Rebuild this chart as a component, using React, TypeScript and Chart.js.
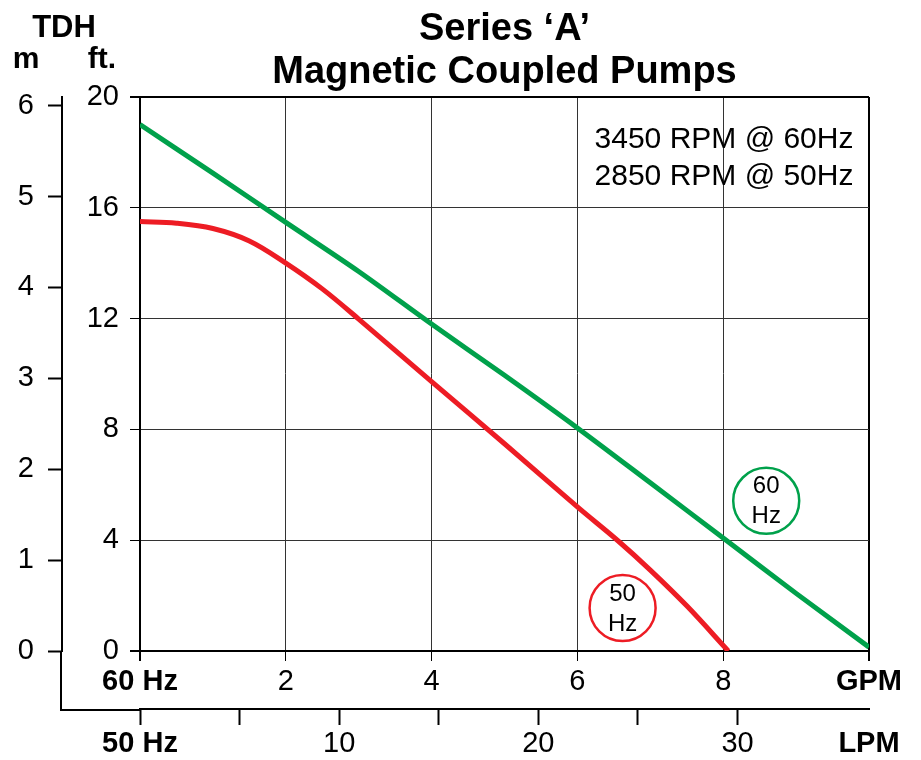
import React, { useEffect, useRef } from 'react';
import { Chart, registerables } from 'chart.js';

Chart.register(...registerables);

// ---------- data ----------
const GPM_TICKS = [0, 2, 4, 6, 8, 10];
const GPM_LABELS = ['60 Hz', '2', '4', '6', '8', 'GPM'];
const LPM_TICKS = [0, 5, 10, 15, 20, 25, 30];
const LPM_LABELS = ['50 Hz', '', '10', '', '20', '', '30'];
const LPM_MAX = 36.6;
const LPM_END_LABEL = 'LPM';
const FT_TICKS = [0, 4, 8, 12, 16, 20];
const M_TICKS = [0, 1, 2, 3, 4, 5, 6];
const FT_PER_M = 3.2808;
const FT_MAX = 20;

const GPM_60 = [0, 1, 2, 3, 4, 5, 6, 7, 8, 9, 10];
const FT_60 = [19.0, 17.25, 15.47, 13.7, 11.8, 9.95, 8.05, 6.07, 4.08, 2.08, 0.14];
const GPM_50 = [0, 0.5, 1, 1.5, 2, 2.5, 3, 4, 5, 6, 6.56, 7, 7.5, 8.07];
const FT_50 = [15.5, 15.44, 15.25, 14.8, 14.0, 13.07, 11.98, 9.72, 7.48, 5.2, 3.97, 2.92, 1.63, 0];

const TITLE_LINES = ['Series \u2018A\u2019', 'Magnetic Coupled Pumps'];
const SPEED_LINES = ['3450 RPM @ 60Hz', '2850 RPM @ 50Hz'];
const HEAD_LABELS = ['TDH', 'm', 'ft.'];
const CURVE_TAGS = [['60', 'Hz'], ['50', 'Hz']];

const GREEN = '#00a14b';
const RED = '#ed1c24';
const FONT = "'Liberation Sans', Arial, Helvetica, sans-serif";
const NUM_SIZE = 29;

const decorPlugin = {
  id: 'decor',
  afterDraw(chart: any) {
    const { ctx, chartArea, scales } = chart;
    const xs = scales.x;
    const ys = scales.y;
    const ym = scales.ym;
    const x2 = scales.x2;
    ctx.save();
    // axis line extensions
    ctx.strokeStyle = '#000';
    ctx.lineWidth = 2;
    ctx.beginPath();
    ctx.moveTo(ym.right - 1, chartArea.bottom);
    ctx.lineTo(ym.right - 1, x2.top + 1);
    ctx.stroke();
    ctx.beginPath();
    ctx.moveTo(ym.right - 2, x2.top + 1);
    ctx.lineTo(chartArea.left, x2.top + 1);
    ctx.stroke();

    // head labels
    ctx.fillStyle = '#000';
    ctx.textAlign = 'center';
    ctx.textBaseline = 'alphabetic';
    ctx.font = `bold 31px ${FONT}`;
    ctx.fillText(HEAD_LABELS[0], 64, 37);
    ctx.font = `bold 30px ${FONT}`;
    ctx.fillText(HEAD_LABELS[1], 26, 68);
    ctx.fillText(HEAD_LABELS[2], 102, 68);

    // speed text
    ctx.font = `30px ${FONT}`;
    ctx.textAlign = 'center';
    const sx = chartArea.right - 145;
    ctx.fillText(SPEED_LINES[0], sx, chartArea.top + 51);
    ctx.fillText(SPEED_LINES[1], sx, chartArea.top + 88);

    // circled tags
    const tags = [
      { lines: CURVE_TAGS[0], gx: 8.59, fy: 5.42, color: GREEN },
      { lines: CURVE_TAGS[1], gx: 6.62, fy: 1.55, color: RED },
    ];
    tags.forEach((t) => {
      const cx = xs.getPixelForValue(t.gx);
      const cy = ys.getPixelForValue(t.fy);
      ctx.beginPath();
      ctx.arc(cx, cy, 33, 0, Math.PI * 2);
      ctx.strokeStyle = t.color;
      ctx.lineWidth = 2.5;
      ctx.stroke();
      ctx.fillStyle = '#000';
      ctx.font = `24px ${FONT}`;
      ctx.textAlign = 'center';
      ctx.textBaseline = 'middle';
      ctx.fillText(t.lines[0], cx, cy - 14);
      ctx.fillText(t.lines[1], cx, cy + 16);
    });
    ctx.restore();
  },
};

export default function App() {
  const ref = useRef<HTMLCanvasElement | null>(null);

  useEffect(() => {
    if (!ref.current) return;
    Chart.defaults.font.family = FONT;
    Chart.defaults.color = '#000';
    const edgeX = (v: number) => v === 0 || v === 10;
    const edgeY = (v: number) => v === 0 || v === 20;

    const chart = new Chart(ref.current, {
      type: 'line',
      data: {
        datasets: [
          {
            label: '60 Hz',
            data: GPM_60.map((g, i) => ({ x: g, y: FT_60[i] })),
            borderColor: GREEN,
            borderWidth: 5,
            pointRadius: 0,
            tension: 0.3,
            fill: false,
          },
          {
            label: '50 Hz',
            data: GPM_50.map((g, i) => ({ x: g, y: FT_50[i] })),
            borderColor: RED,
            borderWidth: 5,
            pointRadius: 0,
            tension: 0.35,
            fill: false,
          },
        ],
      },
      options: {
        responsive: false,
        animation: false,
        devicePixelRatio: 1,
        layout: { padding: { top: 0, left: 0, right: 52, bottom: 0 } },
        plugins: {
          legend: { display: false },
          tooltip: { enabled: false },
          title: {
            display: true,
            text: TITLE_LINES,
            fullSize: false,
            color: '#000',
            font: { size: 38, weight: 'bold', lineHeight: 1.13, family: FONT },
            padding: { top: 8, bottom: 3 },
          },
        },
        scales: {
          x: {
            type: 'linear',
            position: 'bottom',
            weight: 0,
            min: 0,
            max: 10,
            afterBuildTicks: (s: any) => {
              s.ticks = GPM_TICKS.map((v) => ({ value: v }));
            },
            afterFit: (s: any) => {
              s.height = 58;
            },
            ticks: {
              autoSkip: false,
              maxRotation: 0,
              padding: 4,
              color: '#000',
              callback: (v: any) => GPM_LABELS[GPM_TICKS.indexOf(Number(v))],
              font: (c: any) => ({
                size: NUM_SIZE,
                family: FONT,
                weight: c.tick && edgeX(c.tick.value) ? 'bold' : 'normal',
              }),
            },
            grid: {
              color: (c: any) => (c.tick && edgeX(c.tick.value) ? '#000' : '#333'),
              lineWidth: (c: any) => (c.tick && edgeX(c.tick.value) ? 2 : 1),
              tickColor: '#000',
              tickLength: 10,
            },
            border: { color: '#000', width: 2 },
          },
          x2: {
            type: 'linear',
            position: 'bottom',
            weight: 1,
            min: 0,
            max: LPM_MAX,
            afterBuildTicks: (s: any) => {
              s.ticks = [...LPM_TICKS, LPM_MAX].map((v) => ({ value: v }));
            },
            afterFit: (s: any) => {
              s.height = 51;
            },
            ticks: {
              autoSkip: false,
              maxRotation: 0,
              padding: 2,
              color: '#000',
              callback: (v: any) =>
                Number(v) === LPM_MAX ? LPM_END_LABEL : LPM_LABELS[LPM_TICKS.indexOf(Number(v))],
              font: (c: any) => ({
                size: NUM_SIZE,
                family: FONT,
                weight: c.tick && (c.tick.value === 0 || c.tick.value === LPM_MAX) ? 'bold' : 'normal',
              }),
            },
            grid: {
              drawOnChartArea: false,
              tickLength: 16,
              tickWidth: 2,
              tickColor: (c: any) => (c.tick && c.tick.value === LPM_MAX ? 'rgba(0,0,0,0)' : '#000'),
            },
            border: { color: '#000', width: 2 },
          },
          y: {
            type: 'linear',
            position: 'left',
            weight: 0,
            min: 0,
            max: FT_MAX,
            afterBuildTicks: (s: any) => {
              s.ticks = FT_TICKS.map((v) => ({ value: v }));
            },
            afterFit: (s: any) => {
              s.width = 78;
            },
            ticks: {
              padding: 11,
              color: '#000',
              font: { size: NUM_SIZE, family: FONT },
              callback: (v: any) => String(v),
            },
            grid: {
              color: (c: any) => (c.tick && edgeY(c.tick.value) ? '#000' : '#333'),
              lineWidth: (c: any) => (c.tick && edgeY(c.tick.value) ? 2 : 1),
              tickColor: '#000',
              tickLength: 10,
            },
            border: { color: '#000', width: 2 },
          },
          ym: {
            type: 'linear',
            position: 'left',
            weight: 1,
            min: 0,
            max: FT_MAX / FT_PER_M,
            afterBuildTicks: (s: any) => {
              s.ticks = M_TICKS.map((v) => ({ value: v }));
            },
            afterFit: (s: any) => {
              s.width = 62;
            },
            ticks: {
              padding: 14,
              color: '#000',
              font: { size: NUM_SIZE, family: FONT },
              callback: (v: any) => String(v),
            },
            grid: {
              drawOnChartArea: false,
              tickLength: 14,
              tickWidth: 2,
              tickColor: '#000',
            },
            border: { color: '#000', width: 2 },
          },
        },
      },
      plugins: [decorPlugin],
    } as any);
    return () => chart.destroy();
  }, []);

  return (
    <div style={{ position: 'absolute', left: 0, top: 0, width: 921, height: 760, background: '#fff' }}>
      <canvas ref={ref} width={921} height={760} style={{ display: 'block' }} />
    </div>
  );
}
